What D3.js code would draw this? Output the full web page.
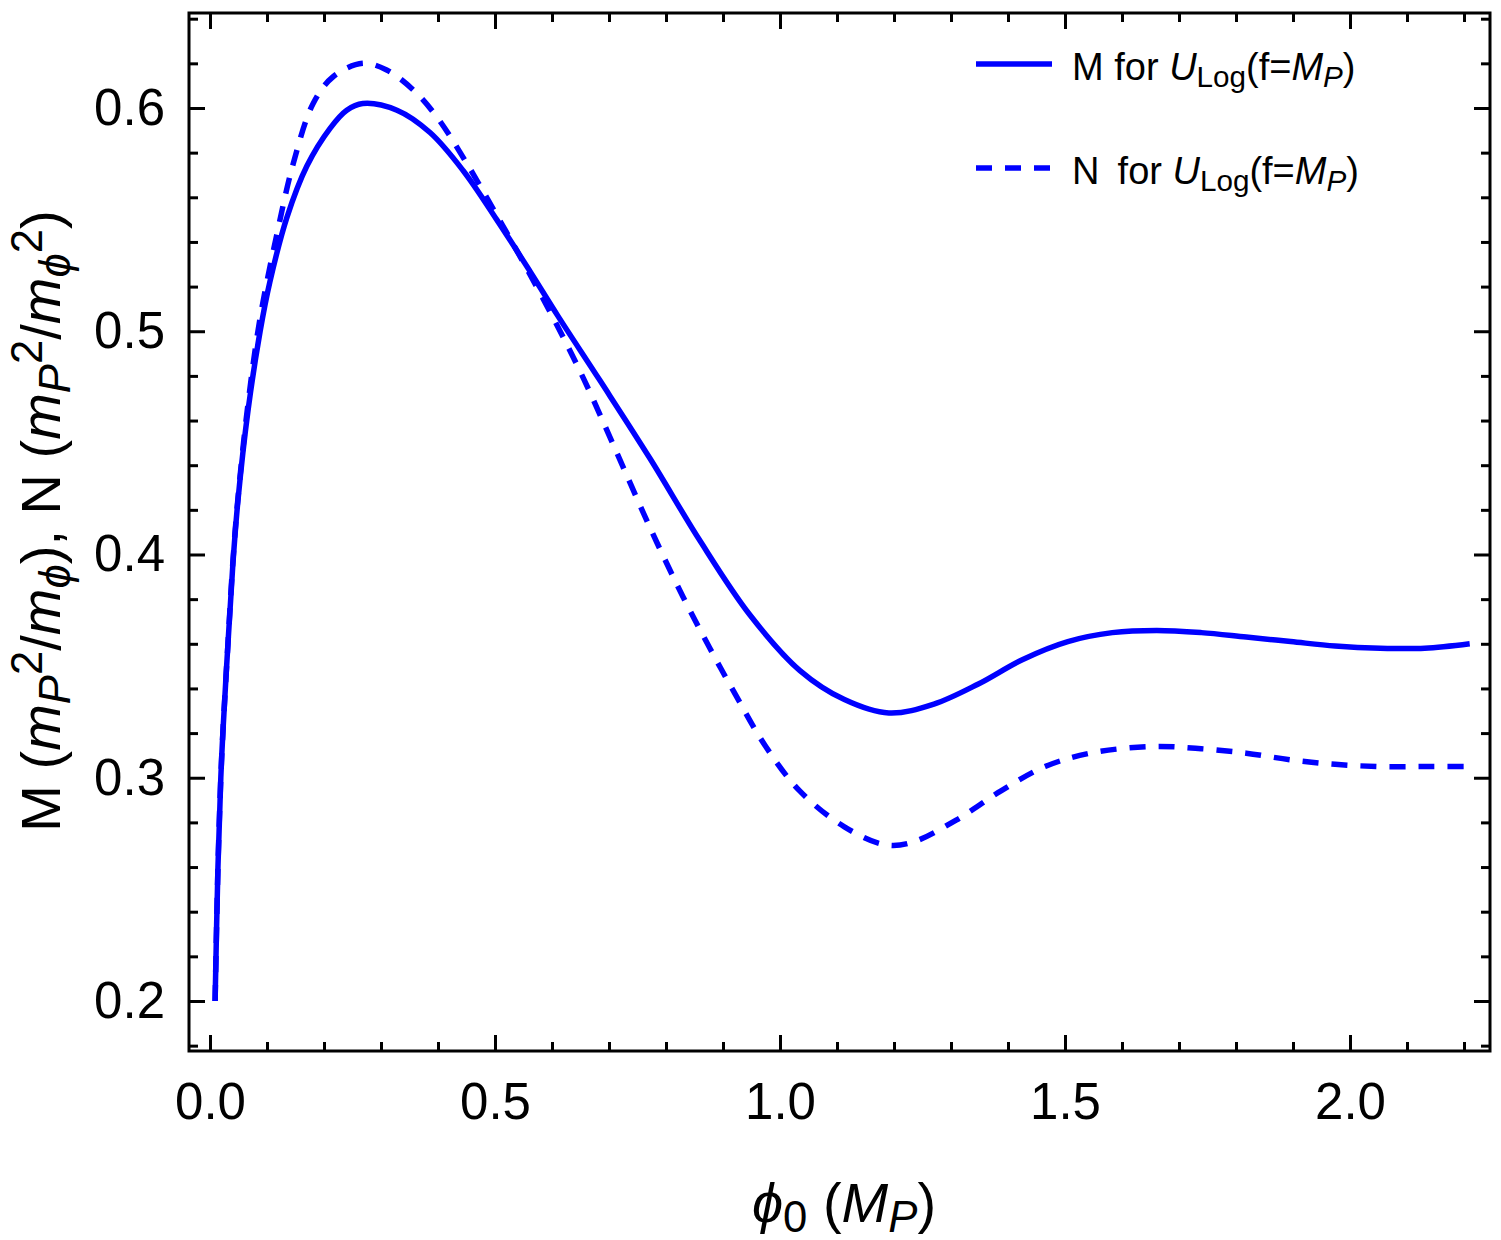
<!DOCTYPE html>
<html>
<head>
<meta charset="utf-8">
<script src="https://cdn.jsdelivr.net/npm/d3@7"></script>
<style>
  body { margin: 0; background: #fff; }
  text { font-family: "Liberation Sans", Arial, sans-serif; fill: #000; }
</style>
</head>
<body>
<div id="chart"></div>
<script>
// phi0 values (M_P) and curve values
let phiM = [0.009, 0.014, 0.019, 0.023, 0.032, 0.040, 0.049, 0.067, 0.088, 0.105, 0.135, 0.170, 0.211, 0.240, 0.268,
    0.328, 0.386, 0.444, 0.503, 0.561, 0.610, 0.684, 0.772, 0.860, 0.947, 1.035, 1.113, 1.191, 1.270, 1.348,
    1.426, 1.505, 1.583, 1.661, 1.739, 1.818, 1.896, 1.974, 2.053, 2.131, 2.210];
let valM = [0.200, 0.260, 0.300, 0.322, 0.362, 0.395, 0.424, 0.465, 0.500, 0.522, 0.551, 0.574, 0.591, 0.599, 0.602,
    0.599, 0.589, 0.572, 0.550, 0.527, 0.507, 0.478, 0.443, 0.406, 0.373, 0.348, 0.335, 0.329, 0.333, 0.342,
    0.353, 0.361, 0.365, 0.366, 0.365, 0.363, 0.361, 0.359, 0.358, 0.358, 0.360];

let phiN = [0.009, 0.014, 0.019, 0.023, 0.032, 0.040, 0.049, 0.067, 0.088, 0.117, 0.146, 0.181, 0.216, 0.268,
    0.310, 0.357, 0.398, 0.451, 0.503, 0.532, 0.596, 0.655, 0.713, 0.772, 0.830, 0.877, 0.918, 0.975, 1.035,
    1.113, 1.184, 1.231, 1.309, 1.387, 1.465, 1.544, 1.653, 1.739, 1.818, 1.896, 1.974, 2.053, 2.131, 2.200];
let valN = [0.200, 0.260, 0.300, 0.322, 0.362, 0.396, 0.425, 0.468, 0.506, 0.543, 0.575, 0.602, 0.614, 0.620,
    0.617, 0.608, 0.596, 0.575, 0.552, 0.539, 0.509, 0.479, 0.446, 0.412, 0.381, 0.358, 0.339, 0.314, 0.294,
    0.278, 0.270, 0.271, 0.281, 0.294, 0.305, 0.311, 0.314, 0.313, 0.311, 0.308, 0.306, 0.305, 0.305, 0.305];

let xMajor = [0.0, 0.5, 1.0, 1.5, 2.0];
let xMinor = [0.1, 0.2, 0.3, 0.4, 0.6, 0.7, 0.8, 0.9, 1.1, 1.2, 1.3, 1.4, 1.6, 1.7, 1.8, 1.9, 2.1, 2.2];
let yMajor = [0.2, 0.3, 0.4, 0.5, 0.6];
let yMinor = [0.18, 0.22, 0.24, 0.26, 0.28, 0.32, 0.34, 0.36, 0.38, 0.42, 0.44, 0.46, 0.48,
    0.52, 0.54, 0.56, 0.58, 0.62, 0.64];

let blue = "#0000ff";

let margin = {top: 13, right: 11, bottom: 189, left: 189};
let width = 1301, height = 1038;

let svg = d3.select("#chart").append("svg")
    .attr("width", 1501)
    .attr("height", 1240);

let g = svg.append("g")
    .attr("transform", `translate(${margin.left},${margin.top})`);

let x = d3.scaleLinear().domain([-0.0368, 2.2456]).range([0, width]);
let y = d3.scaleLinear().domain([0.1776, 0.64255]).range([height, 0]);

// ticks: major + minor on all four sides, pointing inward
function styleAxis(sel) {
    sel.select(".domain").remove();
    sel.selectAll(".tick line").attr("stroke", "#000").attr("stroke-width", 3);
    sel.selectAll("text").style("font-size", "51px").attr("fill", "#000");
}

g.append("g").attr("transform", `translate(0,${height})`)
    .call(d3.axisBottom(x).tickValues(xMajor).tickSize(-16).tickPadding(32).tickFormat(d3.format(".1f")))
    .call(styleAxis);
g.append("g").attr("transform", `translate(0,${height})`)
    .call(d3.axisBottom(x).tickValues(xMinor).tickSize(-9).tickFormat(""))
    .call(styleAxis);
g.append("g")
    .call(d3.axisTop(x).tickValues(xMajor).tickSize(-16).tickFormat(""))
    .call(styleAxis);
g.append("g")
    .call(d3.axisTop(x).tickValues(xMinor).tickSize(-9).tickFormat(""))
    .call(styleAxis);

g.append("g")
    .call(d3.axisLeft(y).tickValues(yMajor).tickSize(-16).tickPadding(24).tickFormat(d3.format(".1f")))
    .call(styleAxis);
g.append("g")
    .call(d3.axisLeft(y).tickValues(yMinor).tickSize(-9).tickFormat(""))
    .call(styleAxis);
g.append("g").attr("transform", `translate(${width},0)`)
    .call(d3.axisRight(y).tickValues(yMajor).tickSize(-16).tickFormat(""))
    .call(styleAxis);
g.append("g").attr("transform", `translate(${width},0)`)
    .call(d3.axisRight(y).tickValues(yMinor).tickSize(-9).tickFormat(""))
    .call(styleAxis);

// frame
g.append("rect")
    .attr("width", width).attr("height", height)
    .attr("fill", "none").attr("stroke", "#000").attr("stroke-width", 3);

// curves
let line = d3.line()
    .x(d => x(d[0]))
    .y(d => y(d[1]))
    .curve(d3.curveCatmullRom.alpha(0.5));

g.append("path")
    .datum(phiM.map((p, i) => [p, valM[i]]))
    .attr("d", line)
    .attr("fill", "none").attr("stroke", blue).attr("stroke-width", 5.5);

g.append("path")
    .datum(phiN.map((p, i) => [p, valN[i]]))
    .attr("d", line)
    .attr("fill", "none").attr("stroke", blue).attr("stroke-width", 5.5)
    .attr("stroke-dasharray", "16,13");

// rich text helper: parts = [text, italic, shift(sub/sup)]
function rich(sel, parts, size) {
    parts.forEach(p => {
        let t = sel.append("tspan").text(p[0]);
        if (p[1]) t.style("font-style", "italic");
        if (p[2] === "sub") t.attr("baseline-shift", "-22%").style("font-size", (size * 0.78) + "px");
        if (p[2] === "sup") t.attr("baseline-shift", "42%").style("font-size", (size * 0.78) + "px");
    });
}

// legend
let legend = svg.append("g");
let legRows = [
    {y: 64, dash: null, label: [["M for "], ["U", true], ["Log", false, "sub"], ["(f="], ["M", true], ["P", true, "sub"], [")"]]},
    {y: 168, dash: "16,13", label: [["N\u2009 for "], ["U", true], ["Log", false, "sub"], ["(f="], ["M", true], ["P", true, "sub"], [")"]]}
];
legRows.forEach(r => {
    legend.append("line")
        .attr("x1", 976).attr("x2", 1052).attr("y1", r.y).attr("y2", r.y)
        .attr("stroke", blue).attr("stroke-width", 5.5)
        .attr("stroke-dasharray", r.dash);
    let t = legend.append("text")
        .attr("x", 1072).attr("y", r.y + 16)
        .style("font-size", "38px");
    rich(t, r.label, 38);
});

// axis titles
let xt = svg.append("text")
    .attr("x", 844).attr("y", 1222)
    .attr("text-anchor", "middle")
    .style("font-size", "56px");
rich(xt, [["\u03d5", true], ["0", false, "sub"], [" ("], ["M", true], ["P", true, "sub"], [")"]], 56);

let yt = svg.append("text")
    .attr("transform", "translate(60,521) rotate(-90)")
    .attr("text-anchor", "middle")
    .style("font-size", "56px");
rich(yt, [["M ("], ["m", true], ["P", true, "sub"], ["2", false, "sup"], ["/"], ["m", true], ["\u03d5", true, "sub"],
    ["), N ("], ["m", true], ["P", true, "sub"], ["2", false, "sup"], ["/"], ["m", true], ["\u03d5", true, "sub"],
    ["2", false, "sup"], [")"]], 56);
</script>
</body>
</html>
